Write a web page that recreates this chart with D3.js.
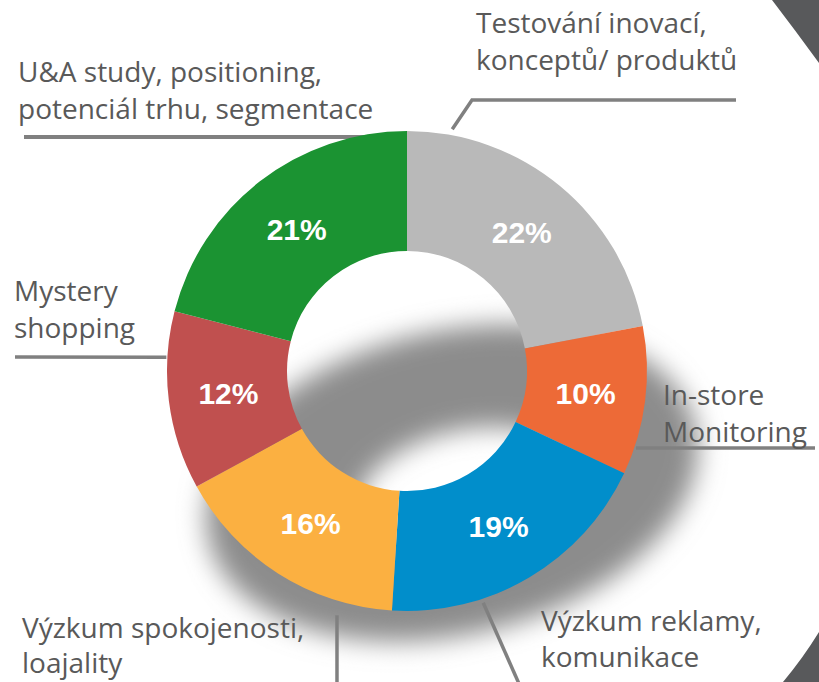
<!DOCTYPE html>
<html>
<head>
<meta charset="utf-8">
<script src="https://cdn.jsdelivr.net/npm/d3@7/dist/d3.min.js"></script>
<style>
  html, body { margin: 0; padding: 0; background: #ffffff; }
  svg { display: block; }
</style>
</head>
<body>
<svg id="chart" width="819" height="682"></svg>
<script>
// ---- data ----
const categories = [
  "Testování inovací, konceptů/ produktů",
  "In-store Monitoring",
  "Výzkum reklamy, komunikace",
  "Výzkum spokojenosti, loajality",
  "Mystery shopping",
  "U&A study, positioning, potenciál trhu, segmentace"
];
const labelLines = [
  ["Testování inovací,", "konceptů/ produktů"],
  ["In-store", "Monitoring"],
  ["Výzkum reklamy,", "komunikace"],
  ["Výzkum spokojenosti,", "loajality"],
  ["Mystery", "shopping"],
  ["U&A study, positioning,", "potenciál trhu, segmentace"]
];
const values = [22, 10, 19, 16, 12, 21];
const colors = ["#b9b9b9", "#ed6a37", "#018ecb", "#fbb041", "#c0504f", "#1b9332"];

// ---- layout ----
const W = 819, H = 682;
const cx = 407, cy = 371, R = 240, r0 = 120;
const textColor = "#595959", lineColor = "#808080";
const labelPos = [
  {x: 476, y: 33, dy: 37}, {x: 663, y: 405, dy: 37}, {x: 541, y: 631, dy: 36},
  {x: 22, y: 638, dy: 35}, {x: 14, y: 301, dy: 37}, {x: 18, y: 82, dy: 37}
];
// leader: start polar (deg from 12 o'clock, radius), then absolute points
const leaders = [
  {a: 10.6, rad: 246, pts: [[472, 100], [736, 100]]},
  {a: 108.6, rad: 241.6, pts: [[815, 448]]},
  {a: 161.8, rad: 244, pts: [[520, 686]]},
  {a: 196, rad: 254, pts: [[337, 686]]},
  {a: 273.3, rad: 241, pts: [[15, 357]]},
  {a: 351, rad: 237, pts: [[24, 137]]}
];

const svg = d3.select("#chart");
const defs = svg.append("defs");
defs.append("filter").attr("id", "blur")
  .attr("x", "-30%").attr("y", "-30%").attr("width", "160%").attr("height", "160%")
  .append("feGaussianBlur").attr("stdDeviation", 13);

// background corner shapes
svg.append("path")
  .attr("d", "M772,0 L819,0 L819,63 Q795,30 772,0 Z")
  .attr("fill", "#58595b");
svg.append("path")
  .attr("d", "M819,632 L819,682 L783,682 Q803,658 819,632 Z")
  .attr("fill", "#58595b");

// shadow
function ellipsePath(ex, ey, rx, ry) {
  return `M${ex - rx},${ey} a${rx},${ry} 0 1,0 ${2 * rx},0 a${rx},${ry} 0 1,0 ${-2 * rx},0 Z`;
}
svg.append("path")
  .attr("d", ellipsePath(0, 0, 250, 152) + ellipsePath(10, 8, 108, 58))
  .attr("fill-rule", "evenodd")
  .attr("fill", "#8c8c8c")
  .attr("transform", `translate(${cx + 45},${cy + 112}) rotate(-13)`)
  .attr("filter", "url(#blur)");

// leader lines (drawn under the donut)
const toRad = d => d * Math.PI / 180;
leaders.forEach((l, i) => {
  const sx = cx + l.rad * Math.sin(toRad(l.a));
  const sy = cy - l.rad * Math.cos(toRad(l.a));
  const pts = [[sx, sy]].concat(l.pts);
  svg.append("path")
    .attr("d", d3.line()(pts))
    .attr("fill", "none")
    .attr("stroke", lineColor)
    .attr("stroke-width", i === 5 ? 4 : 3.5);
});

// donut
const pie = d3.pie().sort(null).value(d => d);
const arc = d3.arc().innerRadius(r0).outerRadius(R);
const arcs = pie(values);
const g = svg.append("g").attr("transform", `translate(${cx},${cy})`);
g.selectAll("path.slice").data(arcs).enter().append("path")
  .attr("class", "slice")
  .attr("d", arc)
  .attr("fill", (d, i) => colors[i]);

g.selectAll("text.pct").data(arcs).enter().append("text")
  .attr("class", "pct")
  .attr("transform", d => `translate(${arc.centroid(d)})`)
  .attr("text-anchor", "middle")
  .attr("dy", "0.36em")
  .attr("fill", "#ffffff")
  .attr("font-family", "Liberation Sans, Arial, sans-serif")
  .attr("font-weight", "bold")
  .attr("font-size", 30)
  .text(d => d.data + "%");

// category labels
labelLines.forEach((lines, i) => {
  const p = labelPos[i];
  const t = svg.append("text")
    .attr("x", p.x).attr("y", p.y)
    .attr("fill", textColor)
    .attr("font-family", "Open Sans, sans-serif")
    .attr("font-size", 28);
  lines.forEach((ln, j) => {
    t.append("tspan").attr("x", p.x).attr("dy", j === 0 ? 0 : p.dy).text(ln);
  });
});
</script>
</body>
</html>
